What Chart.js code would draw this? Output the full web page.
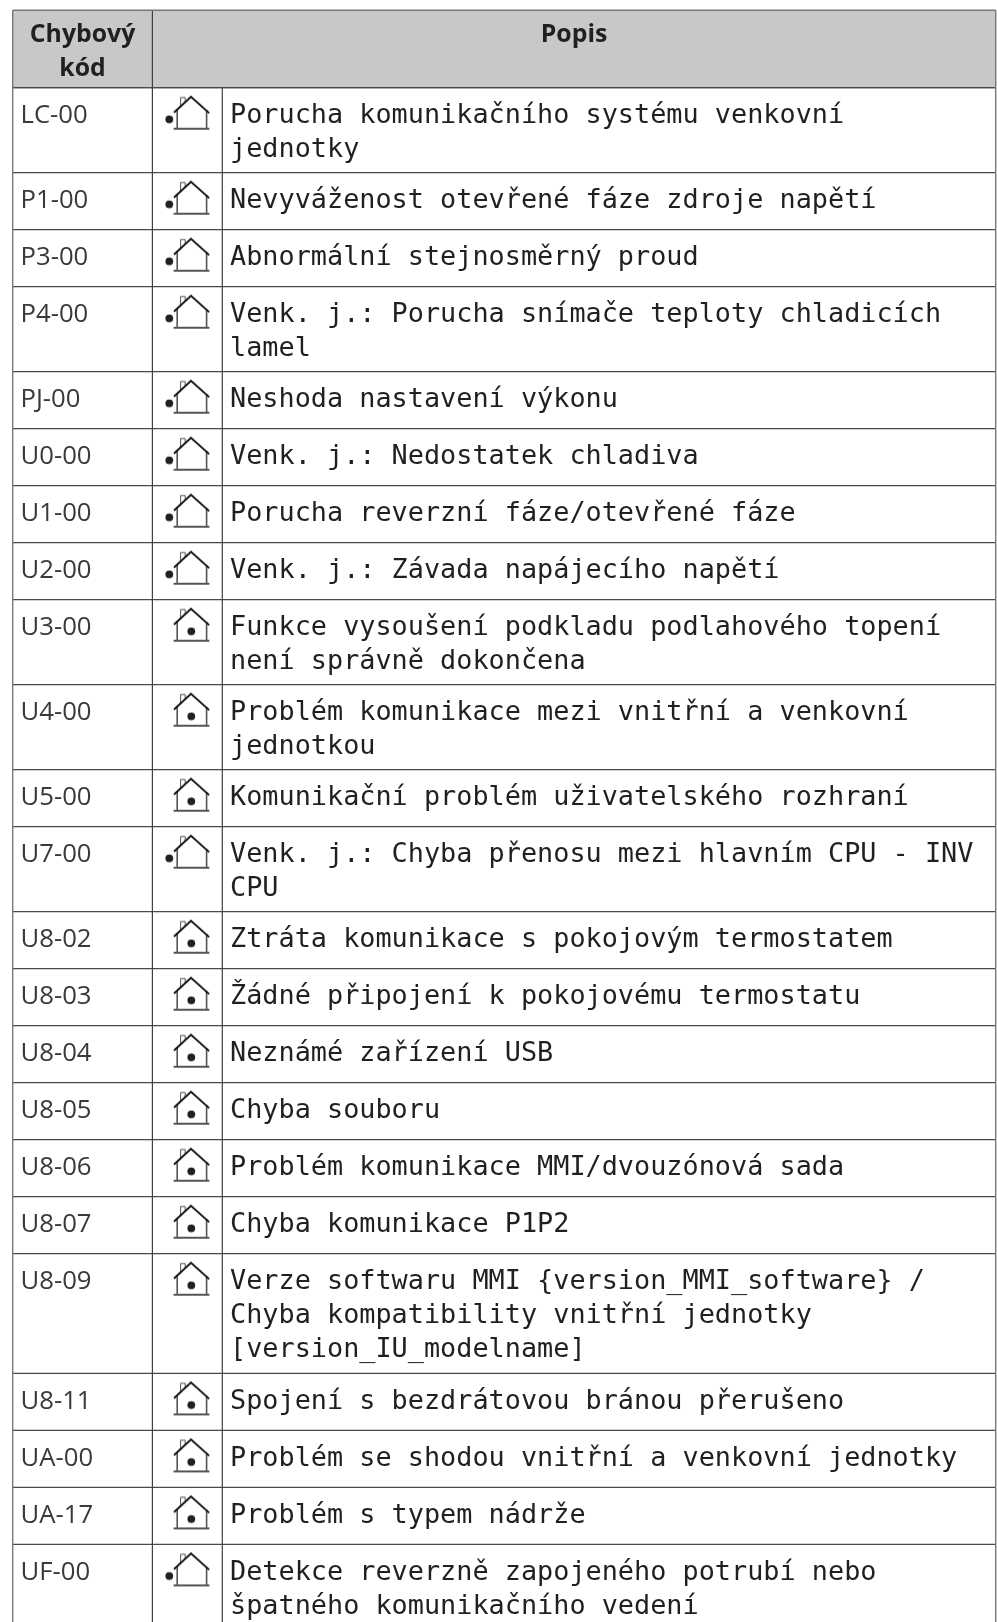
<!DOCTYPE html>
<html><head><meta charset="utf-8">
<style>html,body{margin:0;padding:0;background:#fff}canvas{display:block}</style>
<script src="https://cdn.jsdelivr.net/npm/chart.js@4"></script>
</head><body><canvas id="c" width="997" height="1622"></canvas>
<script>
const headerCode = ["Chybový","kód"];
const headerDesc = "Popis";
const codes = ["LC-00","P1-00","P3-00","P4-00","PJ-00","U0-00","U1-00","U2-00","U3-00","U4-00","U5-00","U7-00","U8-02","U8-03","U8-04","U8-05","U8-06","U8-07","U8-09","U8-11","UA-00","UA-17","UF-00"];
const units = ["out","out","out","out","out","out","out","out","in","in","in","out","in","in","in","in","in","in","in","in","in","in","out"];
const descriptions = [
 ["Porucha komunikačního systému venkovní","jednotky"],
 ["Nevyváženost otevřené fáze zdroje napětí"],
 ["Abnormální stejnosměrný proud"],
 ["Venk. j.: Porucha snímače teploty chladicích","lamel"],
 ["Neshoda nastavení výkonu"],
 ["Venk. j.: Nedostatek chladiva"],
 ["Porucha reverzní fáze/otevřené fáze"],
 ["Venk. j.: Závada napájecího napětí"],
 ["Funkce vysoušení podkladu podlahového topení","není správně dokončena"],
 ["Problém komunikace mezi vnitřní a venkovní","jednotkou"],
 ["Komunikační problém uživatelského rozhraní"],
 ["Venk. j.: Chyba přenosu mezi hlavním CPU - INV","CPU"],
 ["Ztráta komunikace s pokojovým termostatem"],
 ["Žádné připojení k pokojovému termostatu"],
 ["Neznámé zařízení USB"],
 ["Chyba souboru"],
 ["Problém komunikace MMI/dvouzónová sada"],
 ["Chyba komunikace P1P2"],
 ["Verze softwaru MMI {version_MMI_software} /","Chyba kompatibility vnitřní jednotky","[version_IU_modelname]"],
 ["Spojení s bezdrátovou bránou přerušeno"],
 ["Problém se shodou vnitřní a venkovní jednotky"],
 ["Problém s typem nádrže"],
 ["Detekce reverzně zapojeného potrubí nebo","špatného komunikačního vedení"]
];
const rowHeightByLines = {1:57,2:85,3:119.7};
const columnEdges = [12.7,152.4,222.3,995.7];
const tableTop = 10.2, headerBottom = 87.7;

const rowTops = [];
let yy = headerBottom;
descriptions.forEach(d => { rowTops.push(yy); yy += rowHeightByLines[d.length]; });
rowTops.push(yy);

function houseIcon(outdoor){
  const c = document.createElement('canvas'); c.width = 60; c.height = 44;
  const g = c.getContext('2d');
  const X = v => v-150, Y = v => v-5;
  g.strokeStyle = '#555'; g.lineWidth = 1.6;
  g.beginPath(); g.moveTo(X(177.2),Y(22)); g.lineTo(X(177.2),Y(41)); g.moveTo(X(206.6),Y(22)); g.lineTo(X(206.6),Y(41)); g.stroke();
  g.lineWidth = 1.8; g.beginPath(); g.moveTo(X(173.6),Y(41)); g.lineTo(X(209.4),Y(41)); g.stroke();
  g.strokeStyle = '#555'; g.lineWidth = 1;
  g.beginPath(); g.moveTo(X(180.6),Y(20)); g.lineTo(X(180.6),Y(9.8)); g.lineTo(X(185.2),Y(9.8)); g.lineTo(X(185.2),Y(15)); g.stroke();
  g.strokeStyle = '#111'; g.lineWidth = 1.9; g.lineJoin='miter';
  g.beginPath(); g.moveTo(X(174),Y(24.8)); g.lineTo(X(191),Y(9)); g.lineTo(X(209.2),Y(25.4)); g.stroke();
  g.fillStyle = '#231f20'; g.beginPath();
  if(outdoor) g.arc(X(169.3),Y(31.6),3.9,0,7); else g.arc(X(191.3),Y(31.6),3.9,0,7);
  g.fill();
  return c;
}

const textColor = '#231f20';
const tablePlugin = {
  id:'tablePlugin',
  beforeDatasetsDraw(chart){
    const {ctx,scales:{x,y}} = chart;
    const ex = columnEdges.map(v=>x.getPixelForValue(v));
    const top = y.getPixelForValue(tableTop), hb = y.getPixelForValue(headerBottom), bot = y.getPixelForValue(1622);
    ctx.save();
    ctx.fillStyle = '#c6c8ca'; ctx.fillRect(ex[0],top,ex[3]-ex[0],hb-top);
    ctx.strokeStyle = '#4a4a4a'; ctx.lineWidth = 1.3;
    const H = v=>{ctx.beginPath();ctx.moveTo(ex[0],v);ctx.lineTo(ex[3],v);ctx.stroke();};
    const V = (v,a,b)=>{ctx.beginPath();ctx.moveTo(v,a);ctx.lineTo(v,b);ctx.stroke();};
    H(hb); rowTops.forEach(t=>H(y.getPixelForValue(t)));
    ctx.strokeStyle = '#404040'; ctx.lineWidth = 1.2;
    V(ex[1],top,bot); V(ex[2],hb,bot);
    ctx.strokeStyle = '#777'; ctx.lineWidth = 1.4;
    H(top); V(ex[0],top,bot); V(ex[3],top,bot);
    ctx.restore();
  },
  afterDatasetsDraw(chart){
    const {ctx,scales:{x,y}} = chart;
    ctx.save();
    ctx.fillStyle = textColor; ctx.textBaseline='alphabetic';
    ctx.font = 'bold 24.8px "Open Sans"'; ctx.textAlign='center';
    const hc = x.getPixelForValue((columnEdges[0]+columnEdges[1])/2);
    ctx.fillText(headerCode[0],hc,y.getPixelForValue(41.5));
    ctx.fillText(headerCode[1],hc,y.getPixelForValue(76));
    ctx.fillText(headerDesc,x.getPixelForValue((columnEdges[1]+columnEdges[3])/2),y.getPixelForValue(41.5));
    ctx.textAlign='left';
    codes.forEach((c,i)=>{
      ctx.font = '25.7px "Open Sans"'; ctx.fillStyle = '#3a3839';
      ctx.fillText(c,x.getPixelForValue(20.5),y.getPixelForValue(rowTops[i]+35.3));
      ctx.font = '26.85px "DejaVu Sans Mono"'; ctx.fillStyle = textColor;
      descriptions[i].forEach((s,j)=>ctx.fillText(s,x.getPixelForValue(230),y.getPixelForValue(rowTops[i]+35.2+j*34.2)));
    });
    ctx.restore();
  }
};

const iconData = kind => codes.map((c,i)=>units[i]===kind?{x:180,y:rowTops[i]+27}:null).filter(Boolean);
new Chart(document.getElementById('c'),{
  type:'scatter',
  data:{datasets:[
    {label:'Venkovní',data:iconData('out'),pointStyle:houseIcon(true),pointRadius:10,pointHoverRadius:10,clip:false},
    {label:'Vnitřní',data:iconData('in'),pointStyle:houseIcon(false),pointRadius:10,pointHoverRadius:10,clip:false}
  ]},
  options:{
    responsive:false,animation:false,events:[],
    layout:{padding:0,autoPadding:false},
    plugins:{legend:{display:false},tooltip:{enabled:false}},
    scales:{
      x:{type:'linear',min:0,max:997,display:false},
      y:{type:'linear',min:0,max:1622,reverse:true,display:false}
    }
  },
  plugins:[tablePlugin]
});
</script></body></html>
